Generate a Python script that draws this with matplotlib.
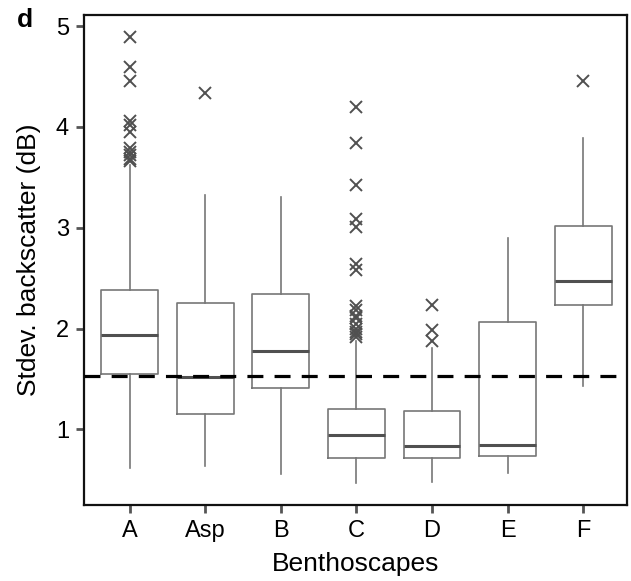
import matplotlib
matplotlib.use("Agg")
import matplotlib.pyplot as plt

plt.rcParams['font.family'] = ['Liberation Sans', 'DejaVu Sans']

# benthoscape classes
labels = ['A', 'Asp', 'B', 'C', 'D', 'E', 'F']

# box stats (dB)
whislo = [0.62, 0.64, 0.56, 0.47, 0.48, 0.57, 1.43]
q1     = [1.55, 1.15, 1.41, 0.72, 0.72, 0.74, 2.23]
med    = [1.94, 1.52, 1.78, 0.94, 0.84, 0.85, 2.47]
q3     = [2.38, 2.25, 2.34, 1.20, 1.18, 2.07, 3.02]
whishi = [3.62, 3.32, 3.30, 1.88, 1.81, 2.90, 3.89]
fliers = [
    [4.89, 4.59, 4.46, 4.06, 4.02, 3.95, 3.79, 3.75, 3.72, 3.68, 3.66],
    [4.34],
    [],
    [4.20, 3.84, 3.42, 3.09, 3.01, 2.64, 2.58, 2.22, 2.18, 2.12, 2.10,
     2.05, 2.00, 1.97, 1.95, 1.92],
    [2.23, 1.99, 1.88],
    [],
    [4.46],
]
threshold = 1.53

stats = []
for i, lab in enumerate(labels):
    stats.append(dict(label=lab, whislo=whislo[i], q1=q1[i], med=med[i],
                      q3=q3[i], whishi=whishi[i], fliers=fliers[i]))

fig = plt.figure(figsize=(6.31, 5.81), dpi=100)
ax = fig.add_axes([0.1336, 0.1308, 0.8601, 0.8434])

box_col = '#777777'
ax.bxp(stats, positions=range(len(labels)), widths=0.75, showcaps=False,
       boxprops=dict(color=box_col, linewidth=1.2),
       whiskerprops=dict(color=box_col, linewidth=1.2),
       medianprops=dict(color='#505050', linewidth=2.2),
       flierprops=dict(marker='x', markersize=9, markeredgecolor='#505050',
                       markeredgewidth=1.4, linestyle='none'))

ax.axhline(threshold, color='black', linewidth=2.3, linestyle=(0, (5, 3.5)), zorder=5)

ax.set_xlim(-0.6, 6.58)
ax.set_ylim(0.25, 5.11)
ax.set_yticks([1, 2, 3, 4, 5])
ax.set_xticks(range(len(labels)))
ax.set_xticklabels(labels)

for s in ax.spines.values():
    s.set_linewidth(1.6)
    s.set_color('#111111')
ax.tick_params(axis='both', length=6, width=2, color='#555555',
               labelsize=17, pad=5)

ax.set_xlabel('Benthoscapes', fontsize=19, labelpad=7)
ax.set_ylabel('Stdev. backscatter (dB)', fontsize=19, labelpad=11)
fig.text(0.026, 0.953, 'd', fontsize=19, fontweight='bold')

fig.savefig('out.png', dpi=100)
